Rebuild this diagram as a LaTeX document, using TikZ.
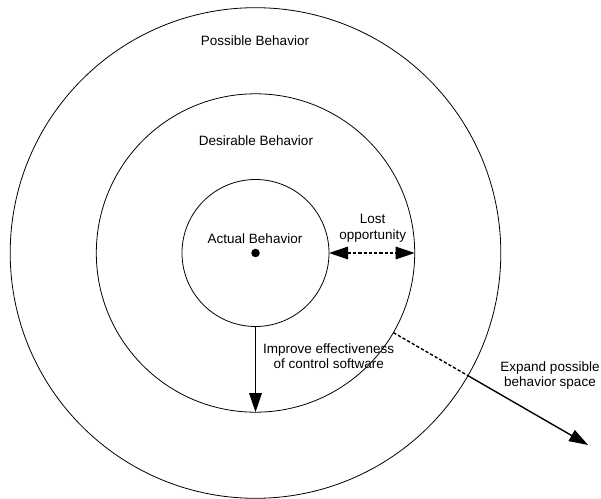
\documentclass[tikz,border=0pt]{standalone}
\usepackage{fontspec}
\setmainfont{Liberation Sans}
\usetikzlibrary{arrows.meta,calc}
\begin{document}
\begin{tikzpicture}[x=1pt,y=1pt,
  ring/.style={circle, draw, line width=0.8pt, inner sep=0pt, outer sep=0pt},
  lbl/.style={font=\fontsize{13.5}{15.5}\selectfont, align=center, inner sep=0pt},
  bigarrow/.style={line width=1.4pt, -{Triangle[length=19pt,width=12.5pt]}},
  dashline/.style={line width=1.4pt, dash pattern=on 3.3pt off 2pt}]
\useasboundingbox (0,0) rectangle (601,498);
\coordinate (c) at (255.5,245);
% three concentric behaviour regions
\node[ring, minimum size=490.6pt] (outer) at (c) {};
\node[ring, minimum size=318.4pt] (mid) at (c) {};
\node[ring, minimum size=147pt] (inner) at (c) {};
\node[circle, fill, inner sep=0pt, minimum size=8.5pt] (dot) at (c) {};
% labels
\node[lbl] (possible) at (255,457.3) {Possible Behavior};
\node[lbl] (desirable) at (256,357.3) {Desirable Behavior};
\node[lbl] (actual) at (255,259.7) {Actual Behavior};
\node[lbl] (lost) at (372.7,269.7) {Lost\\opportunity};
\node[lbl] (improve) at (328.7,142) {Improve effectiveness\\of control software};
\node[lbl] (expand) at (550,122.7) {Expand possible\\behavior space};
% connectors
\draw[bigarrow] (inner.south) -- (mid.south);
\draw[dashline, {Triangle[length=19pt,width=12.5pt]}-{Triangle[length=19pt,width=12.5pt]}] (inner.east) -- (mid.east);
\coordinate (far) at ($(c)+(-30:384)$);
\draw[dashline] (mid.-30) -- (outer.-30);
\draw[bigarrow] (outer.-30) -- (far);
\end{tikzpicture}
\end{document}
